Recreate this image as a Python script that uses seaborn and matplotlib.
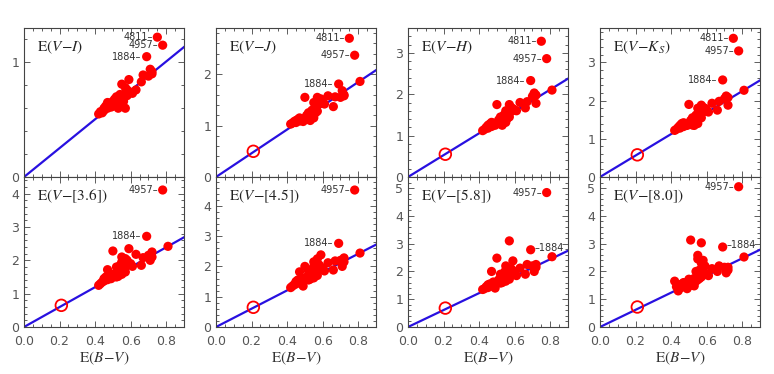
import numpy as np
import pandas as pd
import matplotlib
matplotlib.use("Agg")
import matplotlib.pyplot as plt
import seaborn as sns
from matplotlib.ticker import MultipleLocator, AutoMinorLocator

sns.set_theme(style="white")
plt.rcParams['font.family'] = ['DejaVu Sans']
plt.rcParams['mathtext.fontset'] = 'stix'

# ---- data ----
ebv = [0.42, 0.43, 0.44, 0.45, 0.45, 0.46, 0.47, 0.47, 0.48, 0.49, 0.50, 0.50, 0.51, 0.51,
       0.52, 0.52, 0.53, 0.53, 0.54, 0.54, 0.55, 0.55, 0.55, 0.56, 0.56, 0.57, 0.57, 0.57,
       0.58, 0.58, 0.59, 0.60, 0.61, 0.63, 0.66, 0.67, 0.70, 0.71, 0.72, 0.72, 0.81,
       0.69, 0.75, 0.78]
star_id = [""] * 41 + ["1884", "4811", "4957"]
nan = np.nan
e_vi = [0.55, 0.57, 0.56, 0.60, 0.58, 0.62, 0.60, 0.65, 0.63, 0.61, 0.66, 0.62, 0.68, 0.64,
        0.62, 0.70, 0.67, 0.60, 0.72, 0.65, 0.69, 0.63, 0.81, 0.70, 0.66, 0.78, 0.73, 0.60,
        0.71, 0.76, 0.85, 0.74, 0.73, 0.76, 0.83, 0.89, 0.88, 0.94, 0.92, 0.90, nan,
        1.05, 1.22, 1.15]
e_vj = [1.03, 1.05, 1.08, 1.10, 1.06, 1.12, 1.09, 1.15, 1.13, 1.08, 1.55, 1.14, 1.20, 1.16,
        1.12, 1.25, 1.22, 1.10, 1.30, 1.18, 1.28, 1.15, 1.45, 1.35, 1.25, 1.55, 1.40, 1.28,
        1.42, 1.50, 1.52, 1.45, 1.42, 1.58, 1.37, 1.56, 1.55, 1.68, 1.58, 1.60, 1.86,
        1.81, 2.70, 2.37]
e_vh = [1.12, 1.15, 1.20, 1.25, 1.18, 1.28, 1.22, 1.32, 1.30, 1.25, 1.75, 1.30, 1.38, 1.33,
        1.28, 1.45, 1.40, 1.25, 1.50, 1.35, 1.48, 1.32, 1.60, 1.55, 1.42, 1.75, 1.62, 1.45,
        1.58, 1.68, 1.65, 1.62, 1.60, 1.80, 1.67, 1.82, 1.95, 2.03, 1.78, 1.98, 2.10,
        2.33, 3.28, 2.86]
e_vk = [1.22, 1.25, 1.30, 1.35, 1.28, 1.40, 1.32, 1.42, 1.40, 1.35, 1.90, 1.38, 1.48, 1.42,
        1.36, 1.55, 1.50, 1.35, 1.62, 1.45, 1.60, 1.40, 1.80, 1.68, 1.55, 1.88, 1.75, 1.55,
        1.70, 1.82, 1.80, 1.75, 1.70, 1.93, 1.75, 1.98, 2.05, 2.12, 1.88, 2.08, 2.27,
        2.54, 3.63, 3.30]
e_v36 = [1.25, 1.30, 1.35, 1.45, 1.38, 1.50, 1.42, 1.72, 1.55, 1.45, 2.28, 1.52, 1.60, 1.55,
         1.50, 1.80, 1.70, 1.52, 1.85, 1.62, 1.95, 1.58, 2.10, 2.00, 1.70, 2.05, 1.90, 1.65,
         1.85, 2.00, 2.35, 1.90, 1.82, 2.18, 1.85, 2.08, 2.15, 2.00, 2.25, 2.10, 2.42,
         2.72, nan, 4.11]
e_v45 = [1.30, 1.35, 1.40, 1.50, 1.42, 1.55, 1.48, 1.82, 1.60, 1.35, 2.00, 1.58, 1.65, 1.60,
         1.55, 1.85, 1.75, 1.58, 1.90, 1.68, 2.00, 1.62, 2.15, 2.05, 1.75, 2.25, 1.95, 1.70,
         1.90, 2.05, 2.38, 1.95, 1.85, 2.12, 1.88, 2.18, 2.20, 2.00, 2.28, 2.15, 2.44,
         2.76, nan, 4.52]
e_v58 = [1.35, 1.38, 1.45, 1.52, 1.42, 1.55, 1.48, 2.00, 1.62, 1.40, 2.48, 1.60, 1.70, 1.62,
         1.58, 1.90, 1.80, 1.60, 1.95, 1.70, 2.05, 1.65, 2.20, 2.10, 1.80, 3.10, 2.00, 1.72,
         1.95, 2.10, 2.38, 2.00, 1.85, 2.12, 1.90, 2.25, 2.20, 2.00, 2.25, 2.15, 2.53,
         2.78, nan, 4.84]
e_v80 = [1.65, 1.45, 1.30, 1.50, 1.40, 1.55, 1.45, 1.60, 1.58, 1.38, 1.72, 1.55, 3.13, 1.62,
         1.50, 1.70, 1.75, 1.48, 2.00, 1.65, 2.58, 1.70, 2.45, 2.05, 1.75, 3.03, 2.30, 1.80,
         2.40, 2.10, 2.20, 1.90, 1.85, 2.10, 2.00, 2.20, 2.15, 1.95, 2.15, 2.05, 2.52,
         2.88, nan, 5.05]

panel_labels = [r'$\mathrm{E}(V\!-\!I)$', r'$\mathrm{E}(V\!-\!J)$', r'$\mathrm{E}(V\!-\!H)$',
                r'$\mathrm{E}(V\!-\!K_S)$', r'$\mathrm{E}(V\!-\![3.6])$', r'$\mathrm{E}(V\!-\![4.5])$',
                r'$\mathrm{E}(V\!-\![5.8])$', r'$\mathrm{E}(V\!-\![8.0])$']
series = [e_vi, e_vj, e_vh, e_vk, e_v36, e_v45, e_v58, e_v80]
slopes = [1.26, 2.31, 2.64, 2.81, 2.99, 3.02, 3.05, 3.09]
ref_x = 0.21
ref_y = [nan, 0.50, 0.55, 0.58, 0.65, 0.65, 0.68, 0.72]
ylims = [1.3, 2.9, 3.6, 3.9, 4.5, 4.95, 5.4, 5.4]
label_right = [False] * 6 + [True, True]

# ---- layout ----
W, H = 774, 374
fig = plt.figure(figsize=(W / 100, H / 100), dpi=100)
lefts = [24, 216, 408, 600]
pw = 160
rows = [(28, 177), (177, 327)]

red = '#ff0000'
blue = '#2810e0'
grey = '#444444'

for i in range(8):
    r, c = divmod(i, 4)
    top, bot = rows[r]
    ax = fig.add_axes([lefts[c] / W, 1 - bot / H, pw / W, (bot - top) / H])
    df = pd.DataFrame({'x': ebv, 'y': series[i], 'id': star_id}).dropna()

    # reddening line
    lx = np.array([0.0, 0.92])
    sns.lineplot(x=lx, y=slopes[i] * lx, ax=ax, color=blue, lw=1.6, zorder=2)
    sns.scatterplot(data=df, x='x', y='y', ax=ax, color=red, s=44, edgecolor='none',
                    linewidth=0, zorder=3)
    if not np.isnan(ref_y[i]):
        ax.scatter([ref_x], [ref_y[i]], s=70, facecolors='none', edgecolors=red,
                   linewidths=1.3, zorder=4)

    for _, row in df.iterrows():
        if row['id'] == '':
            continue
        if row['id'] == '1884' and label_right[i]:
            ax.annotate('\u2013' + row['id'], (row['x'], row['y']), xytext=(3, 1.5),
                        textcoords='offset points', ha='left', va='center',
                        fontsize=7, color='#333333')
        else:
            ax.annotate(row['id'] + '\u2013', (row['x'], row['y']), xytext=(-3.5, 0),
                        textcoords='offset points', ha='right', va='center',
                        fontsize=7, color='#333333')

    ax.text(0.08, 0.87, panel_labels[i], transform=ax.transAxes, fontsize=11,
            va='center', ha='left', color='#222222')

    ax.set_xlim(0, 0.9)
    ax.set_ylim(0, ylims[i])
    ax.xaxis.set_major_locator(MultipleLocator(0.2))
    ax.xaxis.set_minor_locator(MultipleLocator(0.05))
    ax.yaxis.set_major_locator(MultipleLocator(1))
    ax.yaxis.set_minor_locator(AutoMinorLocator(5))
    ax.tick_params(which='both', direction='in', top=True, right=True, bottom=True, left=True,
                   colors=grey, labelcolor='#555555', labelsize=9, width=0.6)
    ax.tick_params(which='major', length=4)
    ax.tick_params(which='minor', length=2)
    ax.tick_params(axis='x', pad=6)
    for sp in ax.spines.values():
        sp.set_color(grey)
        sp.set_linewidth(0.8)
    ax.set_ylabel('')
    if r == 0:
        ax.set_xticklabels([])
        ax.set_xlabel('')
    else:
        ax.set_xlabel(r'$\mathrm{E}(B\!-\!V)$', fontsize=11, color='#333333', labelpad=1)
    ax.set_facecolor('white')

fig.savefig('out.png', dpi=100, facecolor='white')
